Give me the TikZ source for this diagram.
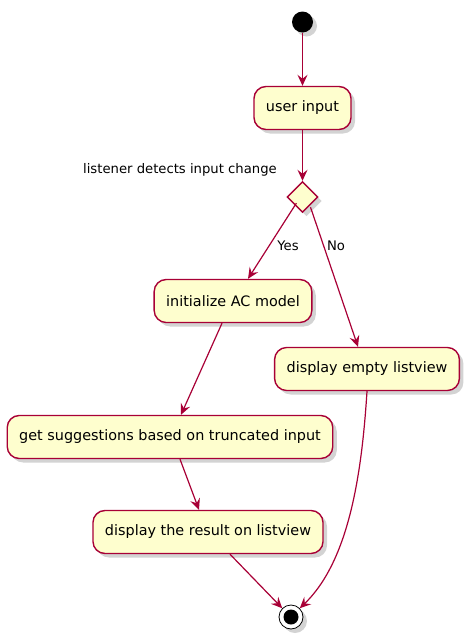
\documentclass[tikz,border=0pt]{standalone}
\usepackage{fontspec}
\setmainfont{DejaVu Sans}
\usepackage{xcolor}
\usetikzlibrary{shapes.geometric, arrows.meta, positioning, shadows}
\definecolor{umlred}{HTML}{A80036}
\definecolor{umlfill}{HTML}{FEFECE}

\begin{document}
\begin{tikzpicture}[x=1pt, y=-1pt]
\tikzstyle{umlshadow} = [drop shadow={opacity=0.35, shadow xshift=4pt, shadow yshift=-4pt}]
\tikzstyle{action} = [rectangle, rounded corners=12pt, draw=umlred, line width=1.4pt, fill=umlfill, minimum height=43pt, inner xsep=12pt, font=\fontsize{14.4}{16}\selectfont, umlshadow]
\tikzstyle{choice} = [diamond, draw=umlred, line width=1.4pt, fill=umlfill, minimum width=31pt, minimum height=31pt, inner sep=0pt, umlshadow]
\tikzstyle{guard} = [font=\fontsize{13.2}{15}\selectfont, inner sep=1pt]
\tikzstyle{arrow} = [draw=umlred, line width=1.2pt, -{Stealth[length=11pt, width=10pt, inset=4pt]}]

\useasboundingbox (0,0) rectangle (472,643);

\node (start) [circle, fill=black, minimum size=21pt, inner sep=0pt, umlshadow] at (302.5,22) {};
\node (input) [action] at (302.5,108) {user input};
\node (detect) [choice] at (302.5,197) {};
\node (detectlabel) [guard, anchor=east] at (278,170) {listener detects input change};
\node (init) [action] at (233,301) {initialize AC model};
\node (empty) [action] at (367,369) {display empty listview};
\node (suggest) [action] at (170,437) {get suggestions based on truncated input};
\node (result) [action] at (208,532) {display the result on listview};
\node (stop) [circle, draw=black, line width=0.8pt, fill=white, minimum size=24pt, inner sep=0pt, umlshadow] at (291,617) {};
\node (stopdot) [circle, fill=black, minimum size=15pt, inner sep=0pt] at (stop) {};

\draw [arrow] (start) -- (input);
\draw [arrow] (input) -- (detect);
\draw [arrow] (detect.south west) ++(2,-2) coordinate (yesfrom) -- (init.north -| 248,0);
\draw [arrow] (detect.south) ++(8,-6) coordinate (nofrom) -- (empty.north -| 358,0);
\node (yes) [guard] at (288,246) {Yes};
\node (no) [guard] at (336,246) {No};
\draw [arrow] (init.south -| 222,0) -- (suggest.north -| 181,0);
\draw [arrow] (suggest.south -| 180,0) -- (result.north -| 199,0);
\draw [arrow] (result.south -| 230,0) -- (stop.north west);
\draw [arrow] (empty.south) .. controls (362,470) and (350,560) .. (stop.north east);

\end{tikzpicture}
\end{document}
